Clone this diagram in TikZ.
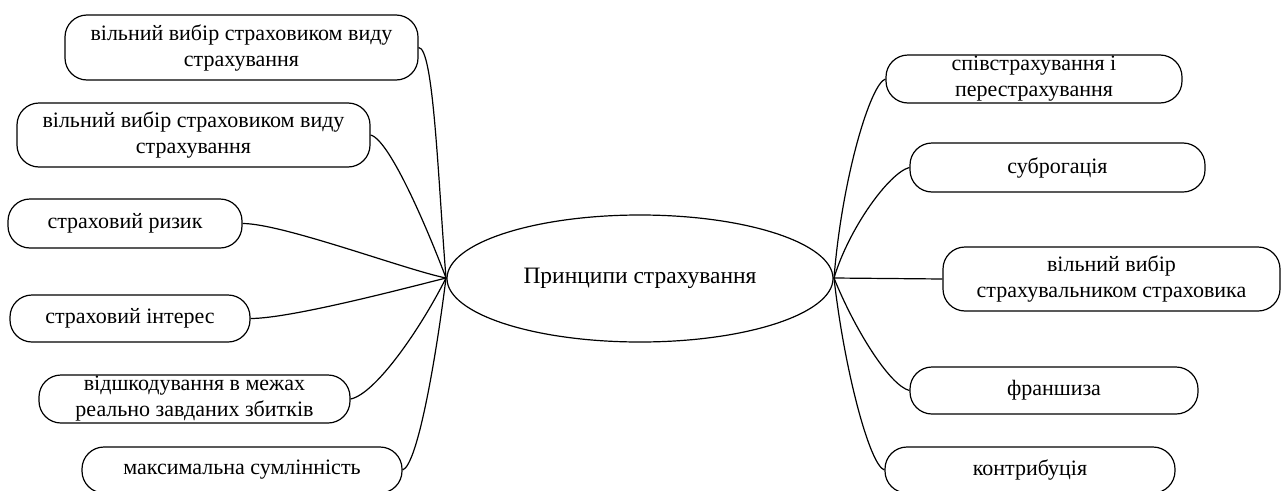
\documentclass[tikz,border=0pt]{standalone}
\usepackage{fontspec}
\setmainfont{Liberation Serif}
\usetikzlibrary{shapes.geometric}
\begin{document}
\begin{tikzpicture}[x=1pt,y=-1pt,
  line width=1.2pt,
  box/.style={draw, rounded corners=22pt, align=center, inner sep=0pt,
    font=\fontsize{22}{26}\selectfont},
  hub/.style={draw, ellipse, inner sep=0pt, font=\fontsize{23.5}{28}\selectfont},
  link/.style={line width=1.2pt}]
\clip (0,0) rectangle (1285,490);
\fill[white] (0,0) rectangle (1285,490);
% centre
\node[hub, minimum width=386pt, minimum height=127pt] (E) at (640,278.5) {Принципи страхування};
\coordinate (W) at (446,278);
\coordinate (Ea) at (834,278);
% left
\node[box, minimum width=353pt, minimum height=65pt] (L1) at (241.5,47.5) {вільний вибір страховиком виду\\страхування};
\node[box, minimum width=353pt, minimum height=64pt] (L2) at (193.5,135) {вільний вибір страховиком виду\\страхування};
\node[box, minimum width=234pt, minimum height=49pt] (L3) at (125,223.5) {страховий ризик};
\node[box, minimum width=240pt, minimum height=47pt] (L4) at (130,318.5) {страховий інтерес};
\node[box, minimum width=311pt, minimum height=48pt] (L5) at (194.5,399) {відшкодування в межах\\реально завданих збитків};
\node[box, minimum width=320pt, minimum height=46pt] (L6) at (242,470) {максимальна сумлінність};
% right
\node[box, minimum width=296pt, minimum height=48pt] (R1) at (1034,79) {співстрахування і\\перестрахування};
\node[box, minimum width=295pt, minimum height=49pt] (R2) at (1057.5,167.5) {суброгація};
\node[box, minimum width=337pt, minimum height=64pt] (R3) at (1111.5,279) {вільний вибір\\страхувальником страховика};
\node[box, minimum width=288pt, minimum height=47pt] (R4) at (1054,390.5) {франшиза};
\node[box, minimum width=290pt, minimum height=46pt] (R5) at (1030,470) {контрибуція};
% connectors left
\draw[link] (L1.east) .. controls +(15,0) and +(-8,-100) .. (W);
\draw[link] (L2.east) .. controls +(20,5) and +(-15,-40) .. (W);
\draw[link] (L3.east) .. controls +(40,0) and +(-40,-8) .. (W);
\draw[link] (L4.east) .. controls +(40,0) and +(-40,10) .. (W);
\draw[link] (L5.east) .. controls +(25,-5) and +(-25,50) .. (W);
\draw[link] (L6.east) .. controls +(15,-5) and +(-10,80) .. (W);
% connectors right
\draw[link] (R1.west) .. controls +(-15,5) and +(8,-100) .. (Ea);
\draw[link] (R2.west) .. controls +(-20,5) and +(15,-50) .. (Ea);
\draw[link] (R3.west) -- (Ea);
\draw[link] (R4.west) .. controls +(-20,-5) and +(20,50) .. (Ea);
\draw[link] (R5.west) .. controls +(-15,-5) and +(10,90) .. (Ea);
\end{tikzpicture}
\end{document}
